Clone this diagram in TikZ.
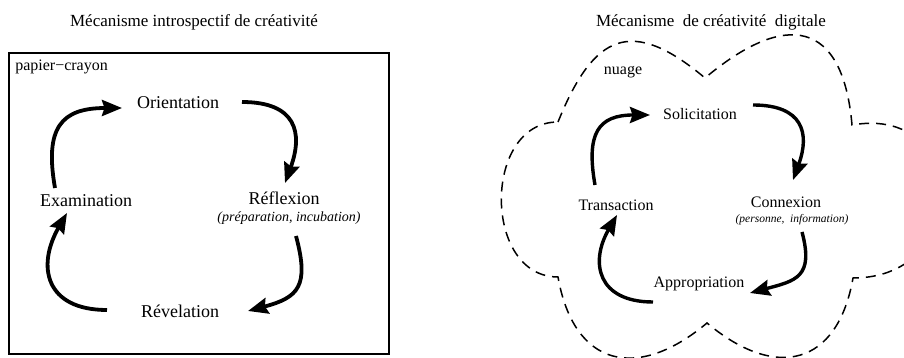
\documentclass[tikz,border=0pt]{standalone}
\usepackage{fontspec}
\setmainfont{Liberation Serif}
\usetikzlibrary{arrows.meta,positioning}

\begin{document}
\begin{tikzpicture}[
    x=1pt, y=1pt,
    heading/.style={inner sep=2pt, font=\fontsize{17}{20}\selectfont},
    phase/.style={inner sep=2pt, font=\fontsize{18}{21}\selectfont},
    phasesm/.style={inner sep=2pt, font=\fontsize{16}{19}\selectfont},
    note/.style={inner sep=2pt, font=\fontsize{14}{16}\selectfont\itshape},
    notesm/.style={inner sep=2pt, font=\fontsize{11.5}{14}\selectfont\itshape},
    boxlabel/.style={inner sep=0pt, font=\fontsize{16}{19}\selectfont},
    turn/.style={line width=3.8pt, -{Stealth[length=20pt,width=16pt,inset=2.5pt]}, looseness=1.5},
    cloudline/.style={line width=1.5pt, dash pattern=on 10pt off 7pt}
]
    \useasboundingbox (0,0) rectangle (904,358);

    % left: papier-crayon
    \node[heading] (titleleft) at (194,336) {Mécanisme introspectif de créativité};
    \node[draw, line width=1.8pt, minimum width=380pt, minimum height=301pt, inner sep=0pt] (paper) at (199,154.5) {};
    \node[boxlabel, anchor=west] (papertag) at ([shift={(7,-15)}]paper.north west) {papier−crayon};

    \node[phase] (orient) at (178,255) {Orientation};
    \node[phase] (reflex) at (284,160) {Réflexion};
    \node[note, below=3pt of reflex, xshift=5pt] (reflexnote) {(préparation, incubation)};
    \node[phase] (revel) at (180,47) {Révelation};
    \node[phase] (exam) at (86,157) {Examination};

    \draw[turn] ([shift={(-31,13)}]exam.center) to[out=100,in=180] ([shift={(-56,-5)}]orient.center);
    \draw[turn] ([shift={(64,1)}]orient.center) to[out=0,in=70] ([shift={(1,15)}]reflex.center);
    \draw[turn] ([shift={(12,-38)}]reflex.center) to[out=-75,in=15] ([shift={(68,0)}]revel.center);
    \draw[turn] ([shift={(-73,1)}]revel.center) to[out=180,in=240] ([shift={(-19,-12)}]exam.center);

    % right: nuage
    \node[heading] (titleright) at (711,336) {Mécanisme\ \ de créativité\ \ digitale};
    \draw[cloudline] (558,236)
        to[out=68,in=140,looseness=1.6] (705,280)
        to[out=40,in=95,looseness=1.75] (852,233)
        to[out=10,in=0,looseness=2] (853,80)
        to[out=-100,in=-40,looseness=1.5] (707,35)
        to[out=-140,in=-80,looseness=1.5] (558,81)
        to[out=180,in=180,looseness=1.25] (558,236);
    \node[boxlabel] (nuagetag) at (623,286) {nuage};

    \node[phasesm] (solic) at (700,244) {Solicitation};
    \node[phasesm] (conn) at (786,156) {Connexion};
    \node[notesm, below=3pt of conn, xshift=6pt] (connnote) {(personne,\ \ information)};
    \node[phasesm] (appro) at (699,74) {Appropriation};
    \node[phasesm] (trans) at (616,153) {Transaction};

    \draw[turn, line width=3.4pt] ([shift={(-21,20)}]trans.center) to[out=100,in=180] ([shift={(-50,-1)}]solic.center);
    \draw[turn, line width=3.4pt] ([shift={(53,9)}]solic.center) to[out=0,in=70] ([shift={(7,22)}]conn.center);
    \draw[turn, line width=3.4pt] ([shift={(16,-30)}]conn.center) to[out=-75,in=15] ([shift={(51,-9)}]appro.center);
    \draw[turn, line width=3.4pt] ([shift={(-46,-18)}]appro.center) to[out=180,in=240] ([shift={(1,-10)}]trans.center);
\end{tikzpicture}
\end{document}
